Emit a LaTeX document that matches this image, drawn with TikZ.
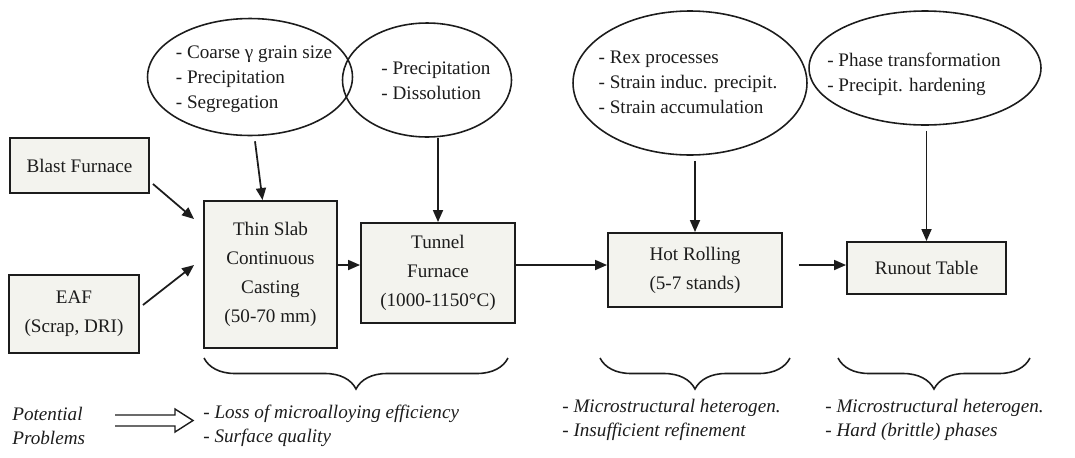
\documentclass[tikz,border=0pt]{standalone}
\usepackage{fontspec}
\setmainfont{Liberation Serif}
\usetikzlibrary{shapes.geometric,arrows.meta,decorations.pathreplacing,calc}
\definecolor{boxfill}{HTML}{F3F3EE}
\definecolor{ink}{HTML}{1C1C1C}
\tikzset{
  stepbox/.style={draw=ink, line width=1.1pt, fill=boxfill, inner sep=0pt, align=center, text=ink,
    font=\fontsize{10.9pt}{16.4pt}\selectfont},
  ell/.style={ellipse, draw=ink, line width=0.9pt, inner sep=0pt},
  elltext/.style={align=left, inner sep=0pt, text=ink, font=\fontsize{10.9pt}{14.2pt}\selectfont},
  probtext/.style={align=left, inner sep=0pt, anchor=west, text=ink, font=\fontsize{10.9pt}{13.6pt}\selectfont\itshape},
  arr/.style={draw=ink, line width=1pt, -{Triangle[length=0.24cm,width=0.2cm]}},
  bracestyle/.style={draw=ink, line width=0.9pt, decorate, decoration={brace, mirror, amplitude=0.62cm}}
}
\begin{document}
\begin{tikzpicture}[x=0.02cm, y=-0.02cm]
\useasboundingbox (0,0) rectangle (1075,457);
% ellipses
\node[ell, minimum width=4.1cm, minimum height=2.34cm] (e1) at (250,77) {};
\node[elltext] (t1) at (254,79) {- Coarse γ grain size\\- Precipitation\\- Segregation};
\node[ell, minimum width=3.38cm, minimum height=2.28cm] (e2) at (427,80) {};
\node[elltext] (t2) at (436,81) {- Precipitation\\- Dissolution};
\node[ell, minimum width=4.68cm, minimum height=2.88cm] (e3) at (690,83) {};
\node[elltext] (t3) at (688,82) {- Rex processes\\- Strain induc. precipit.\\- Strain accumulation};
\node[ell, minimum width=4.64cm, minimum height=2.28cm] (e4) at (925,68) {};
\node[elltext] (t4) at (914,74) {- Phase transformation\\- Precipit. hardening};
% boxes
\node[stepbox, minimum width=2.78cm, minimum height=1.10cm] (bf) at (79.5,165.5) {Blast Furnace};
\node[stepbox, minimum width=2.6cm, minimum height=1.56cm] (eaf) at (74,314) {EAF\\(Scrap, DRI)};
\node[stepbox, minimum width=2.66cm, minimum height=2.94cm] (tsc) at (270.5,274.5) {Thin Slab\\Continuous\\Casting\\(50-70 mm)};
\node[stepbox, minimum width=3.08cm, minimum height=2.0cm] (tf) at (438,273) {Tunnel\\Furnace\\(1000-1150°C)};
\node[stepbox, minimum width=3.48cm, minimum height=1.48cm] (hr) at (695,270) {Hot Rolling\\(5-7 stands)};
\node[stepbox, minimum width=3.18cm, minimum height=1.04cm] (rt) at (926.5,268) {Runout Table};
\coordinate (row) at (0,265);
% connectors
\draw[arr] ($(bf.south east)+(3,-10)$) -- ($(tsc.north west)+(-9,19)$);
\draw[arr] ($(eaf.east)+(3,-9)$) -- ($(tsc.north west)+(-9,65)$);
\draw[arr] ($(e1.south)+(5,5)$) -- ($(tsc.north)+(-8,0)$);
\draw[arr] (tf.north |- e2.south) -- (tf.north);
\draw[arr] ($(hr.north |- e3.south)+(0,5)$) -- (hr.north);
\draw[arr] ($(rt.north |- e4.south)+(0,5)$) -- (rt.north);
\draw[arr] (tsc.east |- row) -- (tf.west |- row);
\draw[arr] (tf.east |- row) -- (hr.west |- row);
\draw[arr] ($(hr.east |- row)+(16,0)$) -- (rt.west |- row);
% braces
\draw[bracestyle] (204,358) -- (508,358);
\draw[bracestyle] (600,358) -- (790,358);
\draw[bracestyle] (838,358) -- (1030,358);
% problems
\node[probtext] (pp) at (12,426) {Potential\\Problems};
\node[probtext] (p1) at (203,426) {- Loss of microalloying efficiency\\- Surface quality};
\node[probtext] (p2) at (562,420) {- Microstructural heterogen.\\- Insufficient refinement};
\node[probtext] (p3) at (825,420) {- Microstructural heterogen.\\- Hard (brittle) phases};
\draw[draw=ink, line width=0.8pt, line join=miter] (115,415) -- (175,415) -- (175,409) -- (193,420.5) -- (175,432) -- (175,426) -- (115,426);
\end{tikzpicture}
\end{document}
